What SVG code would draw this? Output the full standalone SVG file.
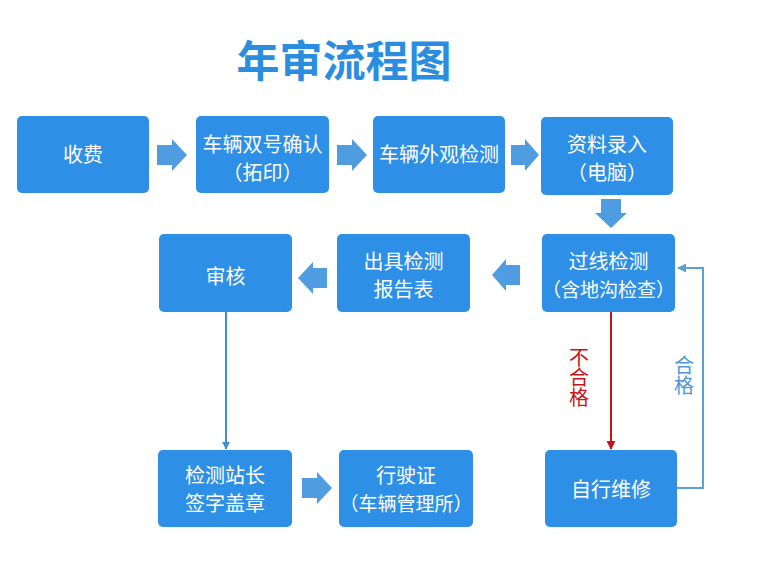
<svg xmlns="http://www.w3.org/2000/svg" width="761" height="565" viewBox="0 0 761 565">
<defs>
<style>
.box{fill:#2d8fe6;}
.t{font-family:"Noto Sans CJK SC","Noto Sans",sans-serif;font-size:20px;fill:#ffffff;text-anchor:middle;}
.s{font-size:19px;}
.blk{fill:#4f9ce0;}
.ln{fill:none;stroke:#3f8fd6;stroke-width:2;}
.red{fill:none;stroke:#c3161c;stroke-width:2;}
.ok{fill:none;stroke:#5aa0d6;stroke-width:2;}
.lbl{font-family:"Noto Sans CJK SC","Noto Sans",sans-serif;font-size:20px;writing-mode:vertical-rl;text-anchor:start;}
</style>
<marker id="ab" viewBox="0 0 10 10" refX="9" refY="5" markerWidth="8" markerHeight="8" orient="auto" markerUnits="userSpaceOnUse">
<path d="M0,0 L10,5 L0,10 z" fill="#3f8fd6"/>
</marker>
<marker id="ar" viewBox="0 0 10 10" refX="9" refY="5" markerWidth="9" markerHeight="9" orient="auto" markerUnits="userSpaceOnUse">
<path d="M0,0 L10,5 L0,10 z" fill="#c3161c"/>
</marker>
<marker id="ao" viewBox="0 0 10 10" refX="9" refY="5" markerWidth="9" markerHeight="9" orient="auto" markerUnits="userSpaceOnUse">
<path d="M0,0 L10,5 L0,10 z" fill="#5aa0d6"/>
</marker>
</defs>
<rect width="761" height="565" fill="#ffffff"/>
<text x="344" y="77" font-family="Noto Sans CJK SC,Noto Sans,sans-serif" font-size="43" font-weight="bold" fill="#2b8de0" text-anchor="middle">年审流程图</text>

<g id="n1"><rect class="box" x="17" y="116" width="132" height="77" rx="5"/><text class="t" x="83" y="162">收费</text></g>
<g id="n2"><rect class="box" x="196" y="116" width="133" height="77" rx="5"/><text class="t" x="262.5" y="152">车辆双号确认<tspan x="262.5" dy="28">（拓印）</tspan></text></g>
<g id="n3"><rect class="box" x="373" y="116" width="132" height="77" rx="5"/><text class="t" x="439" y="162">车辆外观检测</text></g>
<g id="n4"><rect class="box" x="541" y="117" width="132" height="78" rx="5"/><text class="t" x="607" y="152">资料录入<tspan x="607" dy="28">（电脑）</tspan></text></g>
<g id="n5"><rect class="box" x="542" y="234" width="133" height="78" rx="5"/><text class="t" x="608.5" y="269">过线检测<tspan class="s" x="608.5" dy="28">（含地沟检查）</tspan></text></g>
<g id="n6"><rect class="box" x="337" y="234" width="133" height="78" rx="5"/><text class="t" x="403.5" y="269">出具检测<tspan x="403.5" dy="28">报告表</tspan></text></g>
<g id="n7"><rect class="box" x="159" y="234" width="133" height="78" rx="5"/><text class="t" x="225.5" y="284">审核</text></g>
<g id="n8"><rect class="box" x="158" y="450" width="134" height="77" rx="5"/><text class="t" x="225" y="483">检测站长<tspan x="225" dy="28">签字盖章</tspan></text></g>
<g id="n9"><rect class="box" x="339" y="450" width="134" height="77" rx="5"/><text class="t" x="406" y="483">行驶证<tspan class="s" x="406" dy="28">（车辆管理所）</tspan></text></g>
<g id="n10"><rect class="box" x="545" y="450" width="132" height="77" rx="5"/><text class="t" x="611" y="497">自行维修</text></g>

<g id="connectors">
<path class="blk" d="M157,145 H172 V139 L187,155 L172,171 V165 H157 Z"/>
<path class="blk" d="M337,145 H352 V139 L367,155 L352,171 V165 H337 Z"/>
<path class="blk" d="M511,145 H525 V139 L539,155 L525,171 V165 H511 Z"/>
<path class="blk" d="M601,199 V213 H595 L611,228 L627,213 H621 V199 Z"/>
<path class="blk" d="M520,265 H506 V259 L492,275 L506,291 V285 H520 Z"/>
<path class="blk" d="M327,268 H313 V262 L298,278 L313,294 V288 H327 Z"/>
<path class="blk" d="M302,478 H317 V472 L332,488 L317,504 V498 H302 Z"/>
<line class="ln" x1="226" y1="312" x2="226" y2="449" marker-end="url(#ab)"/>
<line class="red" x1="611" y1="312" x2="611" y2="449" marker-end="url(#ar)"/>
<polyline class="ok" points="677,488 703,488 703,268 678,268" marker-end="url(#ao)"/>
<text class="lbl" fill="#c3161c" x="579" y="347">不合格</text>
<text class="lbl" fill="#4f97d2" x="684" y="355">合格</text>
</g>
</svg>
